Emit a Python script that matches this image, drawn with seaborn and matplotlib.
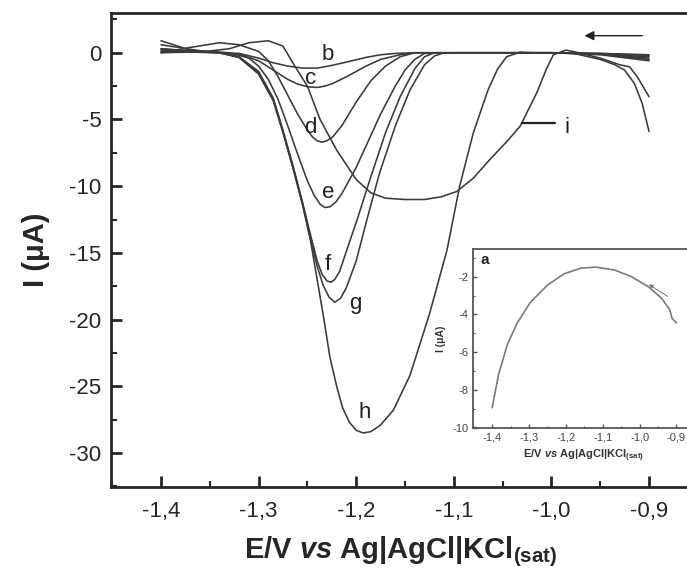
import numpy as np
import pandas as pd
import seaborn as sns
import matplotlib.pyplot as plt
from matplotlib.ticker import MultipleLocator

sns.set_style('ticks')
plt.rcParams['font.family'] = ['Liberation Sans', 'DejaVu Sans']
plt.rcParams['mathtext.fontset'] = 'custom'
plt.rcParams['mathtext.rm'] = 'Liberation Sans:bold'
plt.rcParams['mathtext.it'] = 'Liberation Sans:italic:bold'
plt.rcParams['mathtext.bf'] = 'Liberation Sans:bold'

# curves b..i, potential (V) and current (uA)
b_E = [-1.40, -1.36, -1.32, -1.30, -1.285, -1.27, -1.255, -1.24, -1.225, -1.21, -1.19, -1.175, -1.16, -1.14, -1.10, -1.0, -0.95, -0.90]
b_I = [0.1, 0.05, -0.05, -0.4, -0.75, -1.0, -1.15, -1.15, -0.95, -0.7, -0.35, -0.15, -0.05, 0, 0, 0, -0.05, -0.15]

c_E = [-1.40, -1.36, -1.32, -1.30, -1.285, -1.27, -1.26, -1.25, -1.24, -1.232, -1.224, -1.21, -1.19, -1.175, -1.155, -1.14, -1.10, -1.0, -0.95, -0.90]
c_I = [0.3, 0.1, -0.1, -0.6, -1.3, -2.0, -2.35, -2.55, -2.6, -2.5, -2.3, -1.8, -1.0, -0.5, -0.15, 0, 0, 0, -0.1, -0.3]

d_E = [-1.40, -1.37, -1.34, -1.32, -1.30, -1.29, -1.28, -1.27, -1.26, -1.25, -1.245, -1.24, -1.235, -1.23, -1.224, -1.215, -1.20, -1.185, -1.17, -1.155, -1.14, -1.10, -1.0, -0.95, -0.90]
d_I = [0.0, 0.4, 0.75, 0.6, 0.1, -0.6, -1.8, -3.2, -4.6, -5.8, -6.3, -6.6, -6.7, -6.6, -6.3, -5.5, -3.7, -2.1, -1.0, -0.3, 0, 0, 0, -0.05, -0.2]

e_E = [-1.40, -1.36, -1.33, -1.31, -1.30, -1.29, -1.28, -1.27, -1.26, -1.25, -1.243, -1.237, -1.232, -1.227, -1.221, -1.215, -1.20, -1.19, -1.175, -1.16, -1.15, -1.14, -1.13, -1.10, -1.0, -0.95, -0.90]
e_I = [0.6, 0.15, 0.0, -0.4, -1.0, -2.0, -3.5, -5.5, -7.6, -9.6, -10.7, -11.35, -11.6, -11.55, -11.2, -10.6, -8.6, -7.0, -4.6, -2.5, -1.3, -0.5, -0.05, 0, 0, -0.1, -0.4]

f_E = [-1.40, -1.37, -1.34, -1.32, -1.30, -1.285, -1.275, -1.265, -1.255, -1.247, -1.24, -1.235, -1.23, -1.226, -1.222, -1.217, -1.212, -1.199, -1.185, -1.17, -1.155, -1.14, -1.13, -1.12, -1.10, -1.0, -0.95, -0.90]
f_I = [0.9, 0.2, 0.0, -0.3, -1.4, -3.4, -5.8, -8.4, -11.2, -13.6, -15.6, -16.6, -17.1, -17.2, -17.0, -16.4, -15.3, -12.5, -9.3, -6.0, -3.3, -1.2, -0.3, 0, 0, 0, -0.1, -0.5]

g_E = [-1.40, -1.37, -1.34, -1.32, -1.30, -1.285, -1.275, -1.265, -1.255, -1.247, -1.24, -1.234, -1.228, -1.222, -1.216, -1.21, -1.20, -1.189, -1.176, -1.16, -1.145, -1.13, -1.12, -1.11, -1.10, -1.0, -0.95, -0.90]
g_I = [0.3, 0.1, 0.0, -0.35, -1.5, -3.5, -5.9, -8.5, -11.3, -13.9, -16.0, -17.4, -18.3, -18.7, -18.4, -17.6, -15.6, -12.5, -9.0, -5.5, -2.8, -0.9, -0.25, 0, 0, 0, -0.15, -0.6]

h_E = [-1.40, -1.37, -1.34, -1.32, -1.30, -1.285, -1.275, -1.265, -1.255, -1.247, -1.24, -1.233, -1.227, -1.22, -1.214, -1.207, -1.2, -1.193, -1.185, -1.175, -1.162, -1.145, -1.125, -1.107, -1.094, -1.08, -1.065, -1.055, -1.046, -1.032, -1.02, -0.98, -0.95, -0.935, -0.925, -0.915, -0.907, -0.90]
h_I = [0.0, 0.05, 0.0, -0.35, -1.6, -3.6, -6.0, -8.6, -11.4, -14.0, -17.0, -20.0, -22.8, -25.0, -26.6, -27.7, -28.3, -28.5, -28.4, -27.9, -26.8, -24.2, -19.6, -14.8, -10.0, -6.0, -2.8, -1.2, -0.3, 0.05, 0, 0, -0.5, -0.9, -1.3, -2.3, -3.8, -5.9]

i_E = [-1.40, -1.36, -1.33, -1.31, -1.29, -1.275, -1.265, -1.25, -1.237, -1.22, -1.20, -1.185, -1.17, -1.15, -1.13, -1.113, -1.097, -1.08, -1.063, -1.045, -1.032, -1.015, -1.005, -0.998, -0.985, -0.975, -0.95, -0.93, -0.92, -0.912, -0.90]
i_I = [0.2, 0.05, 0.3, 0.75, 0.9, 0.5, -0.75, -2.5, -5.0, -7.3, -9.5, -10.5, -10.9, -11.0, -11.0, -10.8, -10.4, -9.4, -8.0, -6.6, -5.5, -3.0, -1.2, -0.15, 0.2, 0.05, -0.4, -0.9, -1.05, -1.8, -3.3]

# inset curve a
a_E = [-1.40, -1.383, -1.359, -1.332, -1.296, -1.25, -1.205, -1.159, -1.118, -1.068, -1.022, -0.975, -0.94, -0.918, -0.912, -0.90]
a_I = [-8.93, -7.2, -5.6, -4.45, -3.35, -2.45, -1.85, -1.55, -1.5, -1.65, -2.0, -2.55, -3.15, -3.75, -4.2, -4.45]

curves = {'b': (b_E, b_I), 'c': (c_E, c_I), 'd': (d_E, d_I), 'e': (e_E, e_I),
          'f': (f_E, f_I), 'g': (g_E, g_I), 'h': (h_E, h_I), 'i': (i_E, i_I)}
df = pd.concat([pd.DataFrame({'E': E, 'I': I, 'curve': k}) for k, (E, I) in curves.items()],
               ignore_index=True)

x_ticks = [-1.4, -1.3, -1.2, -1.1, -1.0, -0.9]
x_labels = ['-1,4', '-1,3', '-1,2', '-1,1', '-1,0', '-0,9']
y_ticks = [0, -5, -10, -15, -20, -25, -30]
y_labels = ['0', '-5', '-10', '-15', '-20', '-25', '-30']
in_y_ticks = [-10, -8, -6, -4, -2]

fig = plt.figure(figsize=(6.87, 5.73), dpi=100)
ax = fig.add_axes([111 / 687, 1 - 487 / 573, 580 / 687, 474 / 573])

line_col = '#3a3a3a'
sns.lineplot(data=df, x='E', y='I', units='curve', estimator=None, sort=False,
             color=line_col, linewidth=1.15, ax=ax)

ax.set_xlim(-1.4512, -0.857)
ax.set_ylim(-32.55, 2.98)
ax.set_xticks(x_ticks)
ax.set_xticklabels(x_labels, fontsize=16)
ax.set_yticks(y_ticks)
ax.set_yticklabels(y_labels, fontsize=16)
ax.xaxis.set_minor_locator(MultipleLocator(0.05))
ax.yaxis.set_minor_locator(MultipleLocator(2.5))
ax.tick_params(which='major', direction='in', length=8, width=2)
ax.tick_params(axis='x', which='major', pad=10)
ax.tick_params(axis='y', which='major', pad=7)
ax.tick_params(which='minor', direction='in', length=4, width=1.5)
for s in ax.spines.values():
    s.set_linewidth(2)
ax.spines['right'].set_visible(False)
ax.set_xlabel(r'E/V $\mathit{vs}$ Ag|AgCl|KCl$_{\mathrm{(sat)}}$', fontsize=21,
              fontweight='bold', labelpad=9)
ax.set_ylabel('I (μA)', fontsize=21, fontweight='bold', labelpad=14)

labels = {'b': (-1.229, -0.15), 'c': (-1.247, -1.9), 'd': (-1.247, -5.6),
          'e': (-1.229, -10.5), 'f': (-1.229, -15.9), 'g': (-1.201, -18.8),
          'h': (-1.191, -27.0), 'i': (-0.984, -5.6)}
for k, (x, y) in labels.items():
    ax.text(x, y, k, fontsize=16, ha='center', va='center', color='#222')
ax.plot([-1.030, -0.996], [-5.25, -5.25], color='#222', lw=1.6)
ax.annotate('', xy=(-0.969, 1.28), xytext=(-0.904, 1.28),
            arrowprops=dict(arrowstyle='-|>', color='#222', lw=1, mutation_scale=14))

# inset
axi = fig.add_axes([473 / 687, 1 - 428 / 573, 220 / 687, 179 / 573])
sns.lineplot(x=a_E, y=a_I, color='#7a7a7a', linewidth=1.2, ax=axi, sort=False)
axi.set_xlim(-1.452, -0.855)
axi.set_ylim(-10, -0.54)
axi.set_xticks(x_ticks)
axi.set_xticklabels(x_labels, fontsize=8, color='#444')
axi.set_yticks(in_y_ticks)
axi.set_yticklabels([str(v) for v in in_y_ticks], fontsize=8, color='#444')
axi.xaxis.set_minor_locator(MultipleLocator(0.05))
axi.yaxis.set_minor_locator(MultipleLocator(1))
axi.tick_params(which='major', direction='in', length=3, width=1, color='#555', pad=3)
axi.tick_params(which='minor', direction='in', length=1.5, width=0.8, color='#555')
for s in axi.spines.values():
    s.set_linewidth(1.3)
    s.set_color('#555')
axi.spines['right'].set_visible(False)
axi.set_xlabel(r'E/V $\mathit{vs}$ Ag|AgCl|KCl$_{\mathrm{(sat)}}$', fontsize=8,
               fontweight='bold', labelpad=4, color='#333')
axi.set_ylabel('I (μA)', fontsize=7.5, fontweight='bold', labelpad=5, color='#333')
axi.text(-1.42, -1.1, 'a', fontsize=11, fontweight='bold', ha='center', va='center', color='#222')
axi.annotate('', xy=(-0.981, -2.33), xytext=(-0.918, -3.12),
             arrowprops=dict(arrowstyle='-|>', color='#777', lw=0.7, mutation_scale=6))

fig.savefig('out.png', dpi=100)
